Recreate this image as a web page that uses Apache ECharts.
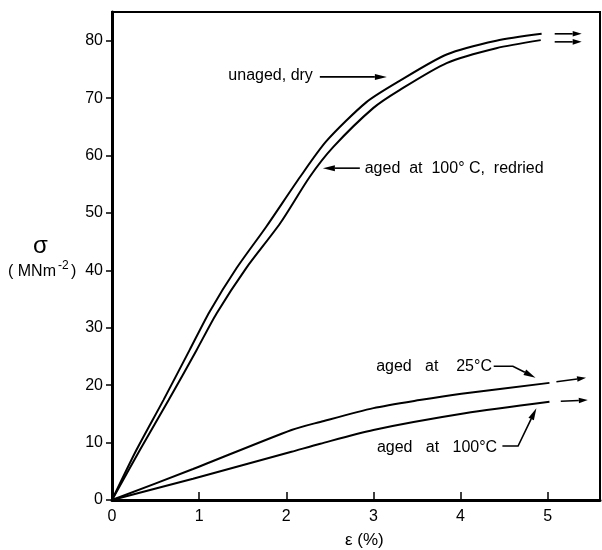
<!DOCTYPE html>
<html><head><meta charset="utf-8">
<script src="https://cdn.jsdelivr.net/npm/echarts@6/dist/echarts.min.js"></script>
<style>html,body{margin:0;padding:0;background:#fff}#c{width:602px;height:550px}</style>
</head><body><div id="c"></div>
<script>
// ---- data (strain %, stress MNm^-2) ----
const xTicks = [0, 1, 2, 3, 4, 5];
const yTicks = [0, 10, 20, 30, 40, 50, 60, 70, 80];
const unagedDry = [[0,0],[0.28,8.7],[0.59,17.4],[0.89,26.1],[1.12,32.8],[1.43,40.4],[1.77,47.6],[2.16,56.3],[2.46,62.5],[2.92,69.3],[3.3,73.0],[3.84,77.6],[4.41,80.0],[4.93,81.2]];
const agedRedried = [[0,0],[0.32,8.7],[0.65,17.4],[0.97,26.1],[1.2,32.5],[1.54,40.4],[1.93,48.2],[2.27,56.3],[2.54,61.5],[3.0,68.3],[3.3,71.4],[3.84,76.1],[4.41,78.7],[4.92,80.1]];
const aged25 = [[0,0],[0.93,5.4],[2.06,12.2],[2.39,13.6],[3.0,16.0],[3.53,17.4],[4.01,18.5],[5.02,20.4]];
const aged100 = [[0,0],[0.93,3.7],[2.06,8.4],[2.39,9.8],[3.0,12.2],[4.05,15.1],[5.02,17.1]];
// continuation arrows beyond end of curves
const contArrows = [
  [[5.08,81.2],[5.39,81.2]],
  [[5.08,79.8],[5.39,79.8]],
  [[5.10,20.6],[5.44,21.3]],
  [[5.15,17.2],[5.46,17.4]]
];
// annotations: label text, label anchor, arrow path (arrowhead at last point)
const labels = ['unaged, dry', 'aged  at  100° C,  redried', 'aged   at    25°C', 'aged   at   100°C'];
const labelAnchors = [[2.305,74.0],[2.90,57.8],[4.36,23.2],[4.42,9.1]];
const labelAlign = ['right','left','right','right'];
const pointerPaths = [
  [[2.385,73.7],[3.154,73.7]],
  [[2.844,57.8],[2.42,57.8]],
  [[4.38,23.3],[4.60,23.3],[4.86,21.3]],
  [[4.48,9.4],[4.66,9.4],[4.87,16.0]]
];

const FONT = 'Liberation Sans';
const chart = echarts.init(document.getElementById('c'));
function lineSeries(name, data) {
  return {name, type:'line', data, smooth:0.25, symbol:'none', lineStyle:{color:'#000', width:2}};
}
chart.setOption({
  animation:false,
  grid:{left:112, right:2, top:12, bottom:50, show:true, borderColor:'#000', borderWidth:2},
  xAxis:{type:'value', min:0, max:5.6, interval:1,
    axisLine:{lineStyle:{color:'#000', width:3}},
    axisTick:{inside:true, length:8, customValues:xTicks.slice(1), lineStyle:{color:'#000', width:1.5}},
    axisLabel:{customValues:xTicks, color:'#000', fontSize:16, fontFamily:FONT, margin:9},
    splitLine:{show:false}},
  yAxis:{type:'value', min:0, max:85, interval:10,
    axisLine:{lineStyle:{color:'#000', width:3}},
    axisTick:{inside:false, length:6, customValues:yTicks, lineStyle:{color:'#000', width:1.5}},
    axisLabel:{customValues:yTicks, color:'#000', fontSize:16, fontFamily:FONT, margin:9},
    splitLine:{show:false}},
  series:[
    lineSeries('unaged, dry', unagedDry),
    lineSeries('aged at 100° C, redried', agedRedried),
    lineSeries('aged at 25°C', aged25),
    lineSeries('aged at 100°C', aged100)
  ]
});

function px(p){ return chart.convertToPixel({gridIndex:0}, p); }
function arrowEls(pathData, hl, hw) {
  const pts = pathData.map(px);
  const els = [];
  const a = pts[pts.length-2], b = pts[pts.length-1];
  const dx = b[0]-a[0], dy = b[1]-a[1], L = Math.hypot(dx,dy);
  const ux = dx/L, uy = dy/L;
  const base = [b[0]-ux*hl, b[1]-uy*hl];
  const linePts = pts.slice(0,-1).concat([base]);
  els.push({type:'polyline', shape:{points:linePts}, style:{stroke:'#000', lineWidth:1.6, fill:null}, z:10});
  els.push({type:'polygon', shape:{points:[b,[base[0]-uy*hw, base[1]+ux*hw],[base[0]+uy*hw, base[1]-ux*hw]]}, style:{fill:'#000'}, z:10});
  return els;
}
const g = [];
contArrows.forEach(p => g.push(...arrowEls(p, 9, 2.8)));
pointerPaths.forEach(p => g.push(...arrowEls(p, 12, 3)));
labels.forEach((t,i) => {
  const p = px(labelAnchors[i]);
  g.push({type:'text', x:p[0], y:p[1], style:{text:t, fill:'#000', font:'16px '+FONT, align:labelAlign[i], verticalAlign:'middle'}, z:10});
});
// axis names
g.push({type:'text', left:33, top:234, style:{text:'σ', fill:'#000', font:'24px '+FONT}});
g.push({type:'text', left:8, top:264, style:{text:'( MNm', fill:'#000', font:'16px '+FONT}});
g.push({type:'text', left:58, top:260, style:{text:'-2', fill:'#000', font:'12px '+FONT}});
g.push({type:'text', left:71, top:264, style:{text:')', fill:'#000', font:'16px '+FONT}});
g.push({type:'text', left:345, top:532, style:{text:'ε (%)', fill:'#000', font:'17px '+FONT}});
chart.setOption({graphic:g});
</script>
</body></html>
